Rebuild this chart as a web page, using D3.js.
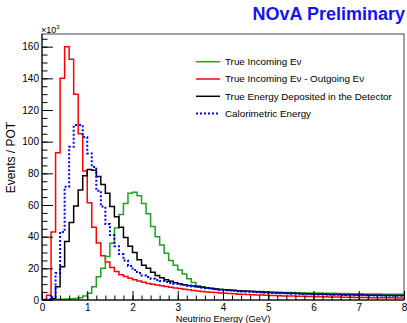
<!DOCTYPE html>
<html>
<head>
<meta charset="utf-8">
<script src="https://cdn.jsdelivr.net/npm/d3@7"></script>
<style>
  html, body { margin: 0; padding: 0; background: #fff; }
  svg { display: block; font-family: "Liberation Sans", Arial, Helvetica, sans-serif; }
</style>
</head>
<body>
<svg id="chart" width="407" height="323"></svg>
<script>
// Histogram binning: 80 bins of 0.1 GeV between 0 and 8 GeV
const binLow = 0, binHigh = 8, nBins = 80;

// Events / POT (x10^3) per bin
const trueIncoming = [
  0.1, 0.2, 0.3, 0.4, 0.5, 0.6, 0.8, 1.0, 1.5, 2.5,
  4.2, 8.4, 14.7, 20, 27.4, 35.8, 45.5, 54, 61, 67.4,
  68, 65.8, 61, 54.5, 46.5, 40, 34.7, 29.5, 25, 22,
  19, 16.5, 13.5, 11, 9, 8.3, 7.8, 7.4, 7.0, 6.7,
  6.5, 6.3, 6.1, 5.9, 5.8, 5.6, 5.5, 5.4, 5.3, 5.2,
  5.1, 5.0, 4.9, 4.8, 4.75, 4.7, 4.6, 4.55, 4.5, 4.45,
  4.4, 4.35, 4.3, 4.25, 4.2, 4.15, 4.1, 4.05, 4.0, 3.95,
  3.9, 3.85, 3.8, 3.8, 3.75, 3.7, 3.7, 3.65, 3.6, 3.6
];
const incomingMinusOutgoing = [
  0.3, 3, 43, 93, 140, 160, 152, 130, 105, 81.5,
  61.5, 46, 36, 28, 24, 20.6, 18, 16, 14.8, 13.8,
  12.8, 12, 11.2, 10.5, 9.9, 9.4, 9, 8.5, 8, 7.6,
  7.2, 6.8, 6.4, 6, 5.7, 5.4, 5.1, 4.9, 4.7, 4.5,
  4.3, 4.1, 3.9, 3.7, 3.6, 3.4, 3.3, 3.2, 3.1, 3.0,
  2.9, 2.8, 2.7, 2.6, 2.5, 2.45, 2.4, 2.3, 2.25, 2.2,
  2.1, 2.05, 2.0, 1.95, 1.9, 1.85, 1.8, 1.75, 1.7, 1.65,
  1.6, 1.55, 1.5, 1.5, 1.45, 1.4, 1.4, 1.35, 1.3, 1.3
];
const depositedEnergy = [
  0, 0.2, 1, 8.4, 21, 37, 49, 59.4, 69.5, 78.5,
  82.5, 82, 78, 73, 67.5, 59, 52.6, 46, 39.5, 34,
  30, 25.5, 22, 20, 17.5, 15.5, 14, 12.8, 11.8, 10.9,
  10.2, 9.7, 9.2, 8.8, 8.4, 8.0, 7.6, 7.3, 7.0, 6.7,
  6.4, 6.2, 6.0, 5.8, 5.6, 5.5, 5.3, 5.2, 5.0, 4.9,
  4.7, 4.6, 4.5, 4.4, 4.3, 4.2, 4.1, 4.0, 3.9, 3.8,
  3.7, 3.65, 3.6, 3.5, 3.45, 3.4, 3.35, 3.3, 3.25, 3.2,
  3.15, 3.1, 3.05, 3.0, 2.95, 2.9, 2.9, 2.85, 2.8, 2.8
];
const calorimetricEnergy = [
  0, 0.5, 2, 17, 43, 71.6, 96.8, 110.5, 110.5, 103,
  92.6, 84, 69, 59, 48, 41, 34, 29, 25, 21.5,
  19, 17, 15.5, 14.5, 13.5, 12.7, 12, 11.4, 10.8, 10.3,
  9.8, 9.4, 9.0, 8.6, 8.2, 7.8, 7.4, 7.1, 6.8, 6.5,
  6.2, 6.0, 5.8, 5.6, 5.4, 5.2, 5.1, 4.9, 4.8, 4.6,
  4.5, 4.4, 4.3, 4.2, 4.1, 4.0, 3.9, 3.8, 3.7, 3.6,
  3.55, 3.5, 3.4, 3.35, 3.3, 3.25, 3.2, 3.15, 3.1, 3.05,
  3.0, 2.95, 2.9, 2.9, 2.85, 2.8, 2.8, 2.75, 2.7, 2.7
];

const seriesNames = [
  "True Incoming E\u03bd",
  "True Incoming E\u03bd - Outgoing E\u03bd",
  "True Energy Deposited in the Detector",
  "Calorimetric Energy"
];
const seriesColors = ["#22a022", "#ff0000", "#000000", "#0000ff"];

const xTickValues = [0, 1, 2, 3, 4, 5, 6, 7, 8];
const yTickValues = [0, 20, 40, 60, 80, 100, 120, 140, 160];

const series = [
  { name: seriesNames[0], values: trueIncoming, color: seriesColors[0], dash: null },
  { name: seriesNames[1], values: incomingMinusOutgoing, color: seriesColors[1], dash: null },
  { name: seriesNames[2], values: depositedEnergy, color: seriesColors[2], dash: null },
  { name: seriesNames[3], values: calorimetricEnergy, color: seriesColors[3], dash: "2,2" }
];

const svg = d3.select("#chart");
const frame = { left: 42, right: 404, top: 34, bottom: 300 };

const x = d3.scaleLinear().domain([binLow, binHigh]).range([frame.left, frame.right]);
const y = d3.scaleLinear().domain([0, 168]).range([frame.bottom, frame.top]);

svg.append("defs").append("clipPath").attr("id", "frameClip")
  .append("rect")
  .attr("x", frame.left).attr("y", frame.top)
  .attr("width", frame.right - frame.left).attr("height", frame.bottom - frame.top);

// Step outlines, drawn like ROOT's HIST option
const binW = (binHigh - binLow) / nBins;
const stepLine = d3.line()
  .x(d => x(d[0]))
  .y(d => y(d[1]))
  .curve(d3.curveStepAfter);

const drawOrder = [1, 0, 2, 3];
const histG = svg.append("g").attr("clip-path", "url(#frameClip)");
drawOrder.forEach(k => {
  const s = series[k];
  const pts = s.values.map((v, i) => [binLow + i * binW, v]);
  pts.push([binHigh, s.values[s.values.length - 1]]);
  histG.append("path")
    .attr("d", stepLine(pts))
    .attr("fill", "none")
    .attr("stroke", s.color)
    .attr("stroke-width", s.dash ? 2 : 1.5)
    .attr("stroke-dasharray", s.dash);
});

// Frame
svg.append("rect")
  .attr("x", frame.left).attr("y", frame.top)
  .attr("width", frame.right - frame.left).attr("height", frame.bottom - frame.top)
  .attr("fill", "none").attr("stroke", "#444").attr("stroke-width", 1);

// Y axis: major + minor ticks pointing into the frame
const yMinor = svg.append("g").attr("transform", `translate(${frame.left},0)`)
  .call(d3.axisLeft(y).tickValues(d3.range(0, 166, 5)).tickSize(-5.5).tickFormat(""));
const yMajor = svg.append("g").attr("transform", `translate(${frame.left},0)`)
  .call(d3.axisLeft(y).tickValues(yTickValues).tickSize(-11).tickPadding(3));
[yMinor, yMajor].forEach(g => {
  g.select(".domain").remove();
  g.selectAll("line").attr("stroke", "#000").attr("stroke-width", 1);
});
yMajor.selectAll("text").attr("font-size", "10px").attr("fill", "#000")
  .attr("font-family", "Liberation Sans, Arial, sans-serif");

// X axis
const xMinor = svg.append("g").attr("transform", `translate(0,${frame.bottom})`)
  .call(d3.axisBottom(x).tickValues(d3.range(0, 8.01, 0.2)).tickSize(-4.5).tickFormat(""));
const xMajor = svg.append("g").attr("transform", `translate(0,${frame.bottom})`)
  .call(d3.axisBottom(x).tickValues(xTickValues).tickSize(-9).tickPadding(4).tickFormat(d3.format("d")));
[xMinor, xMajor].forEach(g => {
  g.select(".domain").remove();
  g.selectAll("line").attr("stroke", "#000").attr("stroke-width", 1);
});
xMajor.selectAll("text").attr("font-size", "10px").attr("fill", "#000")
  .attr("font-family", "Liberation Sans, Arial, sans-serif");

// Axis line on the left and bottom drawn solid black
svg.append("line").attr("x1", frame.left).attr("x2", frame.left)
  .attr("y1", frame.top).attr("y2", frame.bottom).attr("stroke", "#000");
svg.append("line").attr("x1", frame.left).attr("x2", frame.right)
  .attr("y1", frame.bottom).attr("y2", frame.bottom).attr("stroke", "#000");

// Exponent label
const expo = svg.append("text").attr("x", 41).attr("y", 33)
  .attr("font-size", "9px").attr("fill", "#000");
expo.append("tspan").text("\u00d710");
expo.append("tspan").attr("font-size", "6px").attr("dy", -4).text("3");

// Axis titles
svg.append("text")
  .attr("x", (frame.left + frame.right) / 2).attr("y", 322)
  .attr("text-anchor", "middle").attr("font-size", "9.3px").attr("fill", "#000")
  .text("Neutrino Energy (GeV)");
svg.append("text")
  .attr("transform", "translate(14.5,157.5) rotate(-90)")
  .attr("text-anchor", "middle").attr("font-size", "12px").attr("fill", "#000")
  .text("Events / POT");

// Header
svg.append("text")
  .attr("x", 405).attr("y", 20)
  .attr("text-anchor", "end").attr("font-size", "18px").attr("font-weight", "bold")
  .attr("fill", "#1414f0")
  .text("NOvA Preliminary");

// Legend
const legend = svg.append("g");
series.forEach((s, i) => {
  const ly = 61.7 + i * 17.3;
  legend.append("line")
    .attr("x1", 196).attr("x2", 220).attr("y1", ly).attr("y2", ly)
    .attr("stroke", s.color).attr("stroke-width", s.dash ? 2 : 1.5)
    .attr("stroke-dasharray", s.dash);
  legend.append("text")
    .attr("x", 225).attr("y", ly + 3.4)
    .attr("font-size", "9.8px").attr("fill", "#000")
    .text(s.name);
});
</script>
</body>
</html>
